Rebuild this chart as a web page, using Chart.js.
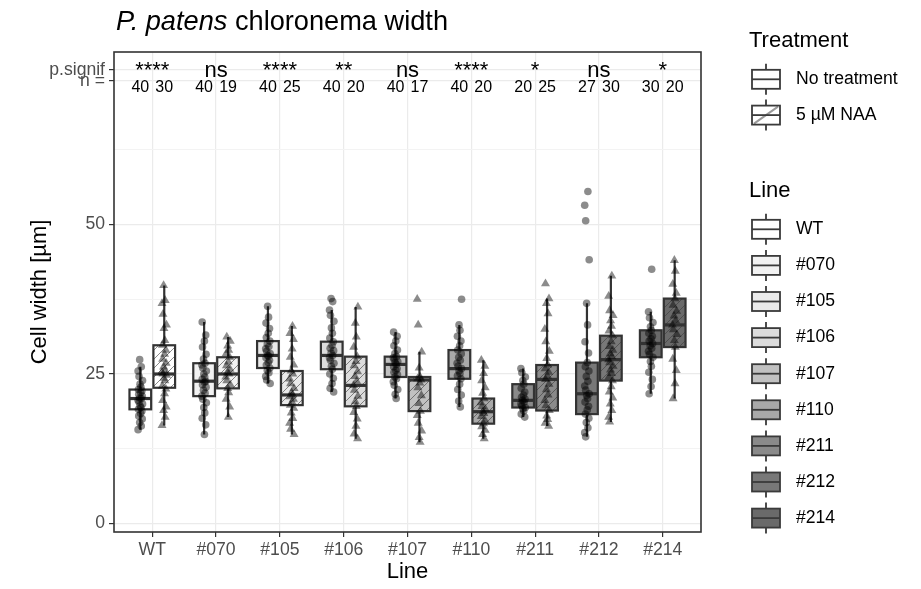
<!DOCTYPE html>
<html>
<head>
<meta charset="utf-8">
<script src="https://cdn.jsdelivr.net/npm/chart.js@4.4.1/dist/chart.umd.min.js"></script>
<style>
  html, body { margin: 0; padding: 0; background: #ffffff; }
  #wrap { width: 921px; height: 589px; }
</style>
</head>
<body>
<div id="wrap"><canvas id="chart" width="921" height="589"></canvas></div>
<script>
// ---------------------------------------------------------------
// Data
// ---------------------------------------------------------------
const lines = ['WT', '#070', '#105', '#106', '#107', '#110', '#211', '#212', '#214'];
const treatments = ['No treatment', '5 µM NAA'];
const lineFills = ['#ffffff', '#f2f2f2', '#eaeaea', '#dcdcdc', '#c1c1c1', '#a9a9a9', '#8a8a8a', '#787878', '#6a6a6a'];

// [lower whisker, Q1, median, Q3, upper whisker]
const boxNoTreat = [
  [15.7, 19.1, 20.9, 22.4, 26.2],
  [14.9, 21.3, 23.8, 26.8, 33.7],
  [23.4, 26.0, 28.1, 30.5, 36.3],
  [22.0, 25.8, 28.1, 30.4, 35.7],
  [20.9, 24.5, 26.6, 27.9, 32.0],
  [19.5, 24.2, 25.9, 29.0, 33.2],
  [17.8, 19.4, 20.6, 23.3, 25.9],
  [14.5, 18.3, 21.7, 26.9, 36.8],
  [21.7, 27.8, 30.1, 32.3, 35.4]
];
const boxNAA = [
  [16.4, 22.7, 25.0, 29.8, 39.8],
  [17.8, 22.6, 25.0, 27.8, 31.2],
  [14.9, 19.8, 21.5, 25.5, 33.0],
  [14.2, 19.6, 23.1, 27.9, 36.2],
  [13.6, 18.8, 24.0, 24.5, 28.7],
  [14.2, 16.7, 18.7, 20.9, 27.3],
  [16.3, 18.9, 24.1, 26.5, 37.6],
  [17.0, 23.9, 27.4, 31.4, 41.4],
  [20.9, 29.5, 33.2, 37.6, 44.0]
];

// individual cell widths (estimated, overlapping points merged)
const ptsNoTreat = [
  [15.7, 16.3, 16.9, 17.5, 18.0, 18.4, 18.8, 19.1, 19.4, 19.7, 20.0, 20.3, 20.6, 20.9, 21.0, 21.3, 21.6, 21.9, 22.2, 22.4, 22.8, 23.3, 23.9, 24.6, 25.5, 26.2, 27.4],
  [14.9, 16.5, 17.6, 18.5, 19.4, 20.2, 20.8, 21.3, 21.8, 22.3, 22.8, 23.2, 23.6, 23.8, 24.1, 24.5, 25.0, 25.5, 26.0, 26.5, 26.8, 27.5, 28.3, 29.5, 30.5, 31.5, 33.7],
  [23.4, 24.0, 24.6, 25.2, 25.6, 26.0, 26.5, 26.9, 27.3, 27.7, 28.0, 28.1, 28.4, 28.8, 29.2, 29.6, 30.0, 30.5, 31.1, 31.8, 32.6, 33.5, 34.5, 36.3],
  [22.0, 22.6, 23.4, 24.3, 25.0, 25.8, 26.3, 26.8, 27.3, 27.7, 28.1, 28.5, 28.9, 29.3, 29.8, 30.4, 31.0, 31.8, 32.7, 33.8, 34.8, 35.7, 37.1, 37.6],
  [20.9, 21.6, 22.4, 23.1, 23.7, 24.2, 24.5, 24.9, 25.3, 25.6, 25.9, 26.2, 26.6, 26.9, 27.1, 27.4, 27.7, 27.9, 28.4, 29.0, 29.7, 30.5, 31.3, 32.0],
  [19.5, 20.5, 21.5, 22.4, 23.3, 24.2, 24.7, 25.1, 25.5, 25.9, 26.3, 26.8, 27.3, 27.8, 28.4, 29.0, 29.7, 30.5, 31.3, 32.3, 33.2, 37.5],
  [17.8, 18.3, 18.8, 19.2, 19.4, 19.7, 20.0, 20.3, 20.6, 20.8, 21.1, 21.5, 22.0, 22.6, 23.3, 23.9, 24.5, 25.2, 25.9],
  [14.5, 15.2, 16.0, 16.9, 17.6, 18.3, 19.0, 19.6, 20.3, 20.9, 21.4, 21.7, 22.3, 23.0, 23.8, 24.6, 25.5, 26.2, 26.9, 28.5, 30.4, 33.2, 36.8, 44.1, 50.6, 53.2, 55.5],
  [21.7, 22.9, 24.1, 25.3, 26.3, 27.1, 27.8, 28.3, 28.8, 29.3, 29.7, 30.1, 30.5, 30.9, 31.3, 31.8, 32.3, 32.9, 33.6, 34.4, 35.4, 42.5]
];
const ptsNAA = [
  [16.4, 17.8, 18.9, 19.5, 20.6, 21.7, 22.5, 23.0, 23.9, 24.3, 24.8, 25.0, 25.3, 25.6, 26.2, 26.8, 27.5, 28.3, 29.0, 29.8, 30.6, 32.6, 33.2, 35.0, 36.8, 37.3, 39.8],
  [17.8, 19.5, 20.8, 21.9, 22.6, 23.2, 23.9, 24.5, 25.0, 25.3, 25.8, 26.4, 27.0, 27.8, 28.4, 29.0, 29.7, 30.5, 31.2],
  [14.9, 15.8, 16.8, 17.6, 18.5, 19.3, 19.8, 20.3, 20.8, 21.2, 21.5, 21.9, 22.6, 23.4, 24.2, 25.0, 25.5, 26.5, 27.8, 29.2, 30.8, 31.8, 33.0],
  [14.2, 15.0, 16.3, 17.5, 18.6, 19.6, 20.4, 21.3, 22.3, 23.1, 23.8, 24.6, 25.4, 26.4, 27.1, 27.9, 29.5, 31.2, 33.5, 36.2],
  [13.6, 14.4, 15.5, 16.8, 18.1, 18.8, 20.1, 21.4, 22.7, 23.5, 24.0, 24.2, 24.5, 26.0, 28.7, 33.2, 37.5],
  [14.2, 14.9, 15.6, 16.2, 16.7, 17.3, 17.9, 18.4, 18.7, 19.1, 19.6, 20.2, 20.9, 21.8, 22.7, 23.9, 25.1, 26.3, 27.3],
  [16.3, 16.8, 17.4, 18.0, 18.9, 19.7, 20.6, 21.5, 22.4, 23.3, 24.1, 24.7, 25.3, 25.9, 26.5, 27.6, 28.8, 30.4, 32.5, 35.1, 36.8, 37.6, 40.1],
  [17.0, 17.8, 18.9, 20.0, 21.0, 22.0, 22.9, 23.9, 24.5, 25.1, 25.7, 26.3, 26.9, 27.4, 27.9, 28.4, 29.0, 29.6, 30.4, 31.4, 32.2, 33.0, 33.9, 34.8, 35.6, 38.0, 41.4],
  [20.9, 23.4, 25.6, 27.5, 29.5, 30.6, 31.6, 32.4, 33.2, 33.9, 34.7, 35.5, 36.5, 37.6, 38.5, 40.0, 42.2, 44.0]
];

const pSignif = ['****', 'ns', '****', '**', 'ns', '****', '*', 'ns', '*'];
const nNoTreat = [40, 40, 40, 40, 40, 40, 20, 27, 30];
const nNAA = [30, 19, 25, 20, 17, 20, 25, 30, 20];

const yTicks = [0, 12.5, 25, 37.5, 50, 62.5, 74, 75.8];
const yTickLabels = { 0: '0', 25: '25', 50: '50', 74: 'n =', 75.8: 'p.signif' };
const SIGNIF_Y = 75.8;
const N_Y = 74;

// ---------------------------------------------------------------
// Styling helpers
// ---------------------------------------------------------------
const FONT = "'Liberation Sans', Arial, Helvetica, sans-serif";
const DODGE = 0.1875;      // half the dodge distance, in category units
const HALF_BOX = 0.17;     // half box width, in category units
const JITTER = [-0.035, 0.015, -0.01, 0.03, -0.025, 0.005, 0.025, -0.03, 0.01, -0.005, 0.035, -0.02];
const EDGE = '#333333';

Chart.defaults.font.family = FONT;

const patternCache = {};
function hatchPattern(ctx, fill) {
  if (patternCache[fill]) return patternCache[fill];
  const s = 9;
  const c = document.createElement('canvas');
  c.width = s; c.height = s;
  const p = c.getContext('2d');
  p.fillStyle = fill;
  p.fillRect(0, 0, s, s);
  p.strokeStyle = 'rgba(60,60,60,0.6)';
  p.lineWidth = 1;
  p.beginPath();
  p.moveTo(0, s); p.lineTo(s, 0);
  p.moveTo(-1, 1); p.lineTo(1, -1);
  p.moveTo(s - 1, s + 1); p.lineTo(s + 1, s - 1);
  p.stroke();
  patternCache[fill] = ctx.createPattern(c, 'repeat');
  return patternCache[fill];
}

function drawBox(ctx, x, y, cx, stats, fill) {
  const [lo, q1, med, q3, hi] = stats;
  const xl = x.getPixelForValue(cx - HALF_BOX);
  const xr = x.getPixelForValue(cx + HALF_BOX);
  const xc = x.getPixelForValue(cx);
  const yq1 = y.getPixelForValue(q1), yq3 = y.getPixelForValue(q3);
  ctx.strokeStyle = EDGE;
  ctx.lineWidth = 2.2;
  ctx.beginPath();
  ctx.moveTo(xc, y.getPixelForValue(hi)); ctx.lineTo(xc, yq3);
  ctx.moveTo(xc, yq1); ctx.lineTo(xc, y.getPixelForValue(lo));
  ctx.stroke();
  ctx.fillStyle = fill;
  ctx.fillRect(xl, yq3, xr - xl, yq1 - yq3);
  ctx.strokeRect(xl, yq3, xr - xl, yq1 - yq3);
  ctx.lineWidth = 3.2;
  ctx.beginPath();
  ctx.moveTo(xl, y.getPixelForValue(med)); ctx.lineTo(xr, y.getPixelForValue(med));
  ctx.stroke();
}

function drawKey(ctx, cx, cy, fill, hatched) {
  const w = 28, h = 19, wh = 6;
  ctx.strokeStyle = '#3a3a3a';
  ctx.lineWidth = 1.8;
  ctx.beginPath();
  ctx.moveTo(cx, cy - h / 2 - wh); ctx.lineTo(cx, cy - h / 2);
  ctx.moveTo(cx, cy + h / 2); ctx.lineTo(cx, cy + h / 2 + wh);
  ctx.stroke();
  ctx.fillStyle = fill;
  ctx.fillRect(cx - w / 2, cy - h / 2, w, h);
  if (hatched) {
    ctx.save();
    ctx.strokeStyle = '#9a9a9a';
    ctx.lineWidth = 2;
    ctx.beginPath();
    ctx.moveTo(cx - w / 2 + 2, cy + h / 2 - 1); ctx.lineTo(cx + w / 2 - 2, cy - h / 2 + 1);
    ctx.stroke();
    ctx.restore();
  }
  ctx.strokeRect(cx - w / 2, cy - h / 2, w, h);
  ctx.beginPath();
  ctx.moveTo(cx - w / 2, cy); ctx.lineTo(cx + w / 2, cy);
  ctx.stroke();
}

// ---------------------------------------------------------------
// Plugin: boxes, annotations, title and legends
// ---------------------------------------------------------------
const boxplotPlugin = {
  id: 'boxplot',
  beforeDatasetsDraw(chart) {
    const { ctx, chartArea, scales: { x, y } } = chart;
    ctx.save();
    ctx.beginPath();
    ctx.rect(chartArea.left, chartArea.top, chartArea.right - chartArea.left, chartArea.bottom - chartArea.top);
    ctx.clip();
    lines.forEach((name, i) => {
      drawBox(ctx, x, y, i - DODGE, boxNoTreat[i], lineFills[i]);
      drawBox(ctx, x, y, i + DODGE, boxNAA[i], hatchPattern(ctx, lineFills[i]));
    });
    ctx.restore();
  },
  afterDatasetsDraw(chart) {
    const { ctx, chartArea, scales: { x, y } } = chart;
    ctx.save();
    // significance and counts
    ctx.fillStyle = '#000000';
    ctx.textAlign = 'center';
    ctx.font = '22px ' + FONT;
    ctx.textBaseline = 'middle';
    pSignif.forEach((s, i) => {
      ctx.fillText(s, x.getPixelForValue(i), y.getPixelForValue(SIGNIF_Y) + 1);
    });
    ctx.font = '16px ' + FONT;
    ctx.textBaseline = 'alphabetic';
    lines.forEach((name, i) => {
      const yy = y.getPixelForValue(N_Y) + 11.5;
      ctx.fillText(String(nNoTreat[i]), x.getPixelForValue(i - DODGE), yy);
      ctx.fillText(String(nNAA[i]), x.getPixelForValue(i + DODGE), yy);
    });
    // panel border
    ctx.strokeStyle = EDGE;
    ctx.lineWidth = 1.6;
    ctx.strokeRect(chartArea.left, chartArea.top, chartArea.right - chartArea.left, chartArea.bottom - chartArea.top);
    ctx.restore();
  },
  afterDraw(chart) {
    const { ctx } = chart;
    ctx.save();
    // title with italic species name
    ctx.fillStyle = '#000000';
    ctx.textAlign = 'left';
    ctx.textBaseline = 'alphabetic';
    ctx.font = 'italic 27.2px ' + FONT;
    ctx.fillText('P. patens', 116, 30);
    const w = ctx.measureText('P. patens').width;
    ctx.font = '27.2px ' + FONT;
    ctx.fillText(' chloronema width', 116 + w, 30);

    // legends
    const legX = 749, keyX = 766, labX = 796;
    ctx.font = '22px ' + FONT;
    ctx.fillText('Treatment', legX, 46.7);
    ctx.fillText('Line', legX, 196.7);
    treatments.forEach((t, k) => {
      const cy = 79.3 + k * 35.8;
      drawKey(ctx, keyX, cy, '#ffffff', k === 1);
      ctx.fillStyle = '#000000';
      ctx.font = '17.6px ' + FONT;
      ctx.textBaseline = 'middle';
      ctx.fillText(t, labX, cy);
      ctx.textBaseline = 'alphabetic';
    });
    lines.forEach((name, i) => {
      const cy = 229.3 + i * 36.1;
      drawKey(ctx, keyX, cy, lineFills[i], false);
      ctx.fillStyle = '#000000';
      ctx.font = '17.6px ' + FONT;
      ctx.textBaseline = 'middle';
      ctx.fillText(name, labX, cy);
      ctx.textBaseline = 'alphabetic';
    });
    ctx.restore();
  }
};

// ---------------------------------------------------------------
// Build scatter data from the point arrays
// ---------------------------------------------------------------
function toPoints(groups, side) {
  const out = [];
  groups.forEach((vals, i) => {
    vals.forEach((v, k) => {
      out.push({ x: i + side * DODGE + JITTER[(k + i * 5) % JITTER.length], y: v });
    });
  });
  return out;
}

const ctx = document.getElementById('chart').getContext('2d');
new Chart(ctx, {
  type: 'scatter',
  data: {
    datasets: [
      {
        label: treatments[0],
        data: toPoints(ptsNoTreat, -1),
        pointStyle: 'circle',
        pointRadius: 3.8,
        pointBorderWidth: 0,
        backgroundColor: 'rgba(0,0,0,0.45)',
        borderColor: 'rgba(0,0,0,0)'
      },
      {
        label: treatments[1],
        data: toPoints(ptsNAA, 1),
        pointStyle: 'triangle',
        pointRadius: 5.2,
        pointBorderWidth: 0,
        backgroundColor: 'rgba(0,0,0,0.45)',
        borderColor: 'rgba(0,0,0,0)'
      }
    ]
  },
  options: {
    responsive: false,
    animation: false,
    layout: { padding: { left: 0, top: 52, right: 220, bottom: 0 } },
    plugins: {
      legend: { display: false },
      tooltip: { enabled: false },
      title: { display: false }
    },
    scales: {
      x: {
        type: 'linear',
        min: -0.6,
        max: 8.6,
        afterBuildTicks: (scale) => { scale.ticks = lines.map((_, i) => ({ value: i })); },
        afterFit: (scale) => { scale.height = 57; },
        ticks: {
          autoSkip: false,
          maxRotation: 0,
          padding: 3,
          color: '#4d4d4d',
          font: { size: 17.6 },
          callback: (v) => lines[v]
        },
        grid: { color: '#ebebeb', lineWidth: 1.2, tickLength: 5, tickColor: EDGE },
        border: { display: false },
        title: {
          display: true,
          text: 'Line',
          color: '#000000',
          font: { size: 22 },
          padding: { top: 0, bottom: 4 }
        }
      },
      y: {
        min: -1.4,
        max: 78.8,
        afterBuildTicks: (scale) => { scale.ticks = yTicks.map(v => ({ value: v })); },
        afterFit: (scale) => { scale.width = 114; },
        ticks: {
          autoSkip: false,
          padding: 4,
          color: '#4d4d4d',
          font: { size: 17.6 },
          callback: (v) => (yTickLabels[v] !== undefined ? yTickLabels[v] : '')
        },
        grid: {
          color: (c) => (yTickLabels[c.tick && c.tick.value] !== undefined ? '#ebebeb' : '#f3f3f3'),
          lineWidth: (c) => (yTickLabels[c.tick && c.tick.value] !== undefined ? 1.2 : 1),
          tickLength: 5,
          tickColor: (c) => (yTickLabels[c.tick && c.tick.value] !== undefined ? EDGE : 'rgba(0,0,0,0)')
        },
        border: { display: false },
        title: {
          display: true,
          text: 'Cell width [µm]',
          color: '#000000',
          font: { size: 22 },
          padding: { top: 27, bottom: 0 }
        }
      }
    }
  },
  plugins: [boxplotPlugin]
});
</script>
</body>
</html>
